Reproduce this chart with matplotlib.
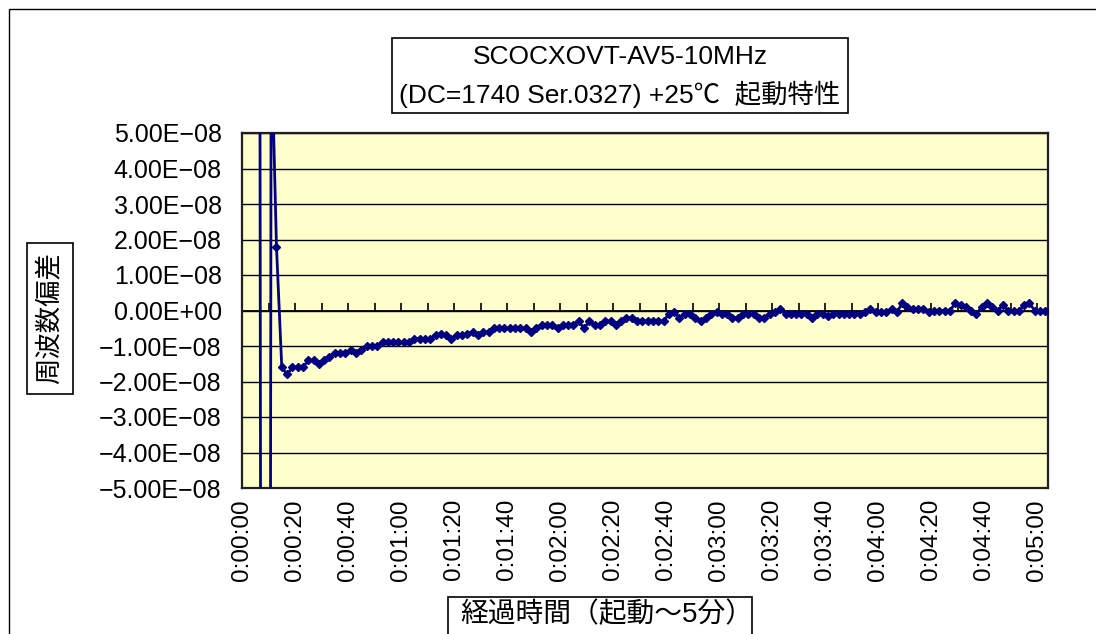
import numpy as np
import matplotlib
matplotlib.use("Agg")
import matplotlib.pyplot as plt
from matplotlib.ticker import FuncFormatter, FixedLocator, MultipleLocator
from matplotlib.patches import Rectangle

plt.rcParams['font.family'] = ['Liberation Sans', 'Noto Sans CJK JP']

# ---------------- data ----------------
title_lines = ["SCOCXOVT-AV5-10MHz", "(DC=1740 Ser.0327) +25\u2103  起動特性"]
y_label = "周波数偏差"
x_label = "経過時間（起動～5分）"

# frequency deviation, in units of 1e-8 (one sample every 2 s)
deviation_e8 = [
    100, 100, 100, -6, -100, 7.8, 1.8,
    -1.6, -1.8, -1.6, -1.6, -1.6, -1.4, -1.4, -1.5, -1.4, -1.3,
    -1.2, -1.2, -1.2, -1.1, -1.2, -1.1, -1.0, -1.0, -1.0, -0.9,
    -0.9, -0.9, -0.9, -0.9, -0.9, -0.8, -0.8, -0.8, -0.8, -0.7,
    -0.65, -0.7, -0.8, -0.7, -0.7, -0.65, -0.6, -0.7, -0.6, -0.6,
    -0.5, -0.5, -0.5, -0.5, -0.5, -0.5, -0.5, -0.6, -0.5, -0.4,
    -0.4, -0.4, -0.5, -0.4, -0.4, -0.4, -0.3, -0.5, -0.3, -0.4,
    -0.4, -0.3, -0.3, -0.4, -0.3, -0.2, -0.2, -0.3, -0.3, -0.3,
    -0.3, -0.3, -0.3,
    -0.1, -0.05, -0.2, -0.1, -0.1, -0.2, -0.3, -0.2, -0.1, -0.05,
    -0.1, -0.1, -0.2, -0.2, -0.1, -0.1, -0.1, -0.2, -0.2, -0.1,
    -0.05, 0.05, -0.1, -0.1, -0.1, -0.1, -0.1, -0.2, -0.1, -0.1,
    -0.15, -0.1, -0.1, -0.1, -0.1, -0.1, -0.1,
    -0.05, 0.05, -0.05, -0.05, -0.05, 0.05, -0.05, 0.2, 0.1, 0.05,
    0.05, 0.05, -0.05, 0.0, 0.0, 0.0, 0.0, 0.2, 0.15, 0.1,
    0.0, -0.1, 0.1, 0.2, 0.1, 0.0, 0.15, 0.0, 0.0, 0.0,
    0.15, 0.2, 0.0, 0.0, 0.0,
]
first_sample_s = 1
sample_interval_s = 2
times_s = first_sample_s + sample_interval_s * np.arange(len(deviation_e8))
deviation = np.array(deviation_e8) * 1e-8

x_max_s = 304
x_label_step_s = 20
x_tick_step_s = 10
y_ticks = [k * 1e-8 for k in range(-5, 6)]

# ---------------- layout ----------------
W, H = 1096, 634
fig = plt.figure(figsize=(W / 100, H / 100), dpi=100)
fig.patch.set_facecolor('white')


def fx(x):
    return x / W


def fy(y):
    return 1 - y / H


# outer chart-area border
fig.patches.append(Rectangle((fx(9), fy(700)), fx(1200) - fx(9), fy(9) - fy(700),
                             transform=fig.transFigure, fill=False,
                             edgecolor='black', lw=1.0))

rect = [fx(242), fy(488), fx(1048) - fx(242), fy(133) - fy(488)]
ax = fig.add_axes(rect)
ax2 = ax.twiny()   # carries the category axis at y = 0 with its tick marks
ax.set_zorder(ax2.get_zorder() + 1)
ax.patch.set_visible(False)
ax2.patch.set_visible(True)
ax2.patch.set_facecolor('#FFFFCC')

ax.plot(times_s, deviation, color='#000080', lw=2.0, marker='D', ms=4.3,
        mfc='#000080', mec='#000080', zorder=3)

ax.set_xlim(0, x_max_s)
ax.set_ylim(y_ticks[0], y_ticks[-1])
ax.yaxis.set_major_locator(FixedLocator(y_ticks))
ax.yaxis.set_major_formatter(FuncFormatter(lambda v, p: f"{v:.2E}".replace('-', '\u2212')))
ax.grid(axis='y', color='black', lw=1.0)
ax.set_axisbelow(True)


def hms(v, p):
    s = int(round(v))
    return f"{s // 3600}:{(s % 3600) // 60:02d}:{s % 60:02d}"


ax.xaxis.set_major_locator(MultipleLocator(x_label_step_s))
ax.xaxis.set_major_formatter(FuncFormatter(hms))
ax.tick_params(axis='x', length=0, pad=8, labelsize=17.5, labelrotation=90)
ax.tick_params(axis='y', length=0, pad=14.5, labelsize=18)
for s in ax.spines.values():
    s.set_color('#202020')
    s.set_linewidth(1.6)

ax2.set_xlim(0, x_max_s)
ax2.xaxis.set_major_locator(MultipleLocator(x_tick_step_s))
ax2.xaxis.set_ticks_position('top')
ax2.spines['top'].set_position(('data', 0))
ax2.spines['top'].set_linewidth(1.3)
ax2.spines['top'].set_color('black')
for k in ('bottom', 'left', 'right'):
    ax2.spines[k].set_visible(False)
ax2.tick_params(axis='x', direction='out', length=6, width=1.2, color='black', labeltop=False)

# title box
fig.patches.append(Rectangle((fx(392), fy(113)), fx(848) - fx(392), fy(38) - fy(113),
                             transform=fig.transFigure, fill=True, facecolor='white',
                             edgecolor='black', lw=1.2))
fig.text(fx(620), fy(57), title_lines[0], ha='center', va='center', fontsize=19)
fig.text(fx(620), fy(94), title_lines[1], ha='center', va='center', fontsize=19)

# y label box
fig.patches.append(Rectangle((fx(27), fy(394)), fx(73) - fx(27), fy(243) - fy(394),
                             transform=fig.transFigure, fill=True, facecolor='white',
                             edgecolor='black', lw=1.2))
fig.text(fx(50), fy(318), y_label, ha='center', va='center', rotation=90, fontsize=19)

# x label box
fig.patches.append(Rectangle((fx(448), fy(650)), fx(752) - fx(448), fy(597) - fy(650),
                             transform=fig.transFigure, fill=True, facecolor='white',
                             edgecolor='black', lw=1.2))
fig.text(fx(607), fy(615), x_label, ha='center', va='center', fontsize=20)

fig.savefig('out.png', dpi=100, facecolor='white')
